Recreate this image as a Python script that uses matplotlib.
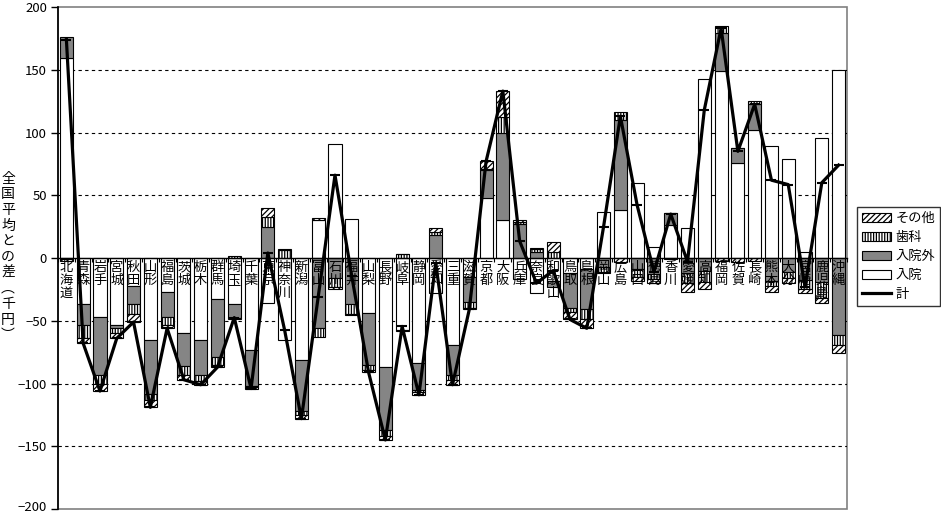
import numpy as np
import matplotlib
matplotlib.use("Agg")
import matplotlib.pyplot as plt
import matplotlib.transforms as mtransforms
from matplotlib.patches import Patch, Rectangle
from matplotlib.lines import Line2D

plt.rcParams['font.family'] = ['Noto Sans CJK JP', 'DejaVu Sans']
plt.rcParams['hatch.linewidth'] = 0.9

prefectures = ["北海道", "青森", "岩手", "宮城", "秋田", "山形", "福島", "茨城", "栃木", "群馬",
               "埼玉", "千葉", "東京", "神奈川", "新潟", "富山", "石川", "福井", "山梨", "長野",
               "岐阜", "静岡", "愛知", "三重", "滋賀", "京都", "大阪", "兵庫", "奈良", "和歌山",
               "鳥取", "島根", "岡山", "広島", "山口", "徳島", "香川", "愛媛", "高知", "福岡",
               "佐賀", "長崎", "熊本", "大分", "宮崎", "鹿児島", "沖縄"]

nyuin = [159, -37, -47, -53, -22, -65, -27, -60, -65, -33,
         -37, -73, -36, -65, -81, 30, 91, 31, -43.5, -86.5,
         -57, -84, -28, -69, -15, 48, 30, -17, -28, -18,
         -12, -9, 37, 38, 60, 9, 26, 24, 143, 149,
         76, 102, 89, 78.5, 5, 96, 150]
nyuingai = [17, -16, -46, -3, -15, -43, -20, -26, -28, -46,
            -11, -29, 25, 0, -41, -56, -16, -37, -41.5, -50.5,
            -1, -21, 18, -24, -20, 22, 70, 27, 5, -5,
            -28, -32, -7, 72, -9, -13, 10, -12, -10, 30,
            12, 21, -18, -11, -17.5, -19, -61]
shika = [-1, -11, -7, -4, -8, -5, -6, -7, -5, -6,
         1.5, -1, 8, 6, -3, -7, -7, -8, -4, -5,
         3, -2, 3, -4, -5, 1, 12, 2, 2, 5,
         -3, -8, -4, 6, -6, -4, 0, -8, -9, 6,
         0, 2, -4, -5, -7, -13, -8]
sonota = [-1, -4, -6, -4, -6, -6, -3, -4, -3, -2,
          -1, -1, 7, 1.5, -3, 2, -2, -0.5, -2, -3,
          0.5, -2, 3, -4, -1, 6, 21, 1.5, 1, 8,
          -6, -7, -1, -3, -3, -3, -1, -7, -6, -2,
          -3, -2.5, -5, -4, -3.5, -4, -7]

series = [
    ("入院", nyuin, dict(facecolor="white", hatch=None)),
    ("入院外", nyuingai, dict(facecolor="#858585", hatch=None)),
    ("歯科", shika, dict(facecolor="white", hatch="||||||")),
    ("その他", sonota, dict(facecolor="white", hatch="//////")),
]

fig = plt.figure(figsize=(9.41, 5.14), dpi=100)
ax = fig.add_axes([58/941, 1-509/514, (847-58)/941, (509-7)/514])

n = len(prefectures)
x = np.arange(n)
pos_bottom = np.zeros(n)
neg_bottom = np.zeros(n)
handles = {}
for name, vals, style in series:
    v = np.array(vals, dtype=float)
    bottoms = np.where(v >= 0, pos_bottom, neg_bottom)
    ax.bar(x, v, bottom=bottoms, width=0.78, edgecolor="black", linewidth=0.8,
           facecolor=style["facecolor"], hatch=style["hatch"], zorder=2)
    pos_bottom = pos_bottom + np.where(v >= 0, v, 0)
    neg_bottom = neg_bottom + np.where(v < 0, v, 0)
    handles[name] = Patch(facecolor=style["facecolor"], hatch=style["hatch"],
                          edgecolor="black", linewidth=0.8)

total = np.array(nyuin) + np.array(nyuingai) + np.array(shika) + np.array(sonota)
ax.plot(x, total, color="black", linewidth=2.3, marker="_", markersize=7,
        markeredgewidth=1.5, zorder=5)

# category labels (vertical writing)
for i, name in enumerate(prefectures):
    ax.text(i, -2.5, "\n".join(name), ha="center", va="top", fontsize=9.5,
            linespacing=1.0, zorder=4)

ax.set_xlim(-0.5, n - 0.5)
ax.set_ylim(-200, 200)
ax.set_yticks(np.arange(-200, 201, 50))
ax.tick_params(axis="y", direction="out", length=5, width=1, labelsize=9.5, pad=3)
for yv in [-150, -100, -50, 50, 100, 150]:
    ax.axhline(yv, color="black", linestyle=(0, (3, 3)), linewidth=0.8, zorder=1)

# keep the lowest tick label inside the figure
fig.canvas.draw()
lbls = ax.get_yticklabels()
lbls[0].set_transform(lbls[0].get_transform() +
                      mtransforms.ScaledTranslation(0, 3/100, fig.dpi_scale_trans))

# category axis at zero
ax.spines["bottom"].set_position(("data", 0))
ax.spines["bottom"].set_color("black")
ax.spines["bottom"].set_linewidth(1.0)
ax.spines["bottom"].set_zorder(3)
ax.set_xticks(np.arange(-0.5, n, 1.0))
ax.set_xticklabels([])
ax.tick_params(axis="x", direction="out", length=3, width=0.8)
ax.spines["top"].set_visible(False)
ax.spines["right"].set_visible(False)
ax.spines["left"].set_color("black")
ax.spines["left"].set_linewidth(1.2)
ax.add_patch(Rectangle((0, 0), 1, 1, transform=ax.transAxes, fill=False,
                       edgecolor="#808080", linewidth=1.2, zorder=0, clip_on=False))

# y label (vertical writing)
fig.text(8/941, 1-257/514, "\n".join("全国平均との差︵千円︶"), ha="center", va="center",
         fontsize=10, linespacing=1.15)

leg_handles = [handles["その他"], handles["歯科"], handles["入院外"], handles["入院"],
               Line2D([0], [0], color="black", linewidth=2.3)]
leg_labels = ["その他", "歯科", "入院外", "入院", "計"]
leg = fig.legend(leg_handles, leg_labels, loc="upper left",
                 bbox_to_anchor=(857/941, 1-207/514), fontsize=9.5, frameon=True,
                 fancybox=False, edgecolor="black", handlelength=2.2, handleheight=0.7,
                 handletextpad=0.3, labelspacing=0.45, borderpad=0.4, borderaxespad=0)
leg.get_frame().set_linewidth(1.0)

fig.savefig("out.png", dpi=100)
